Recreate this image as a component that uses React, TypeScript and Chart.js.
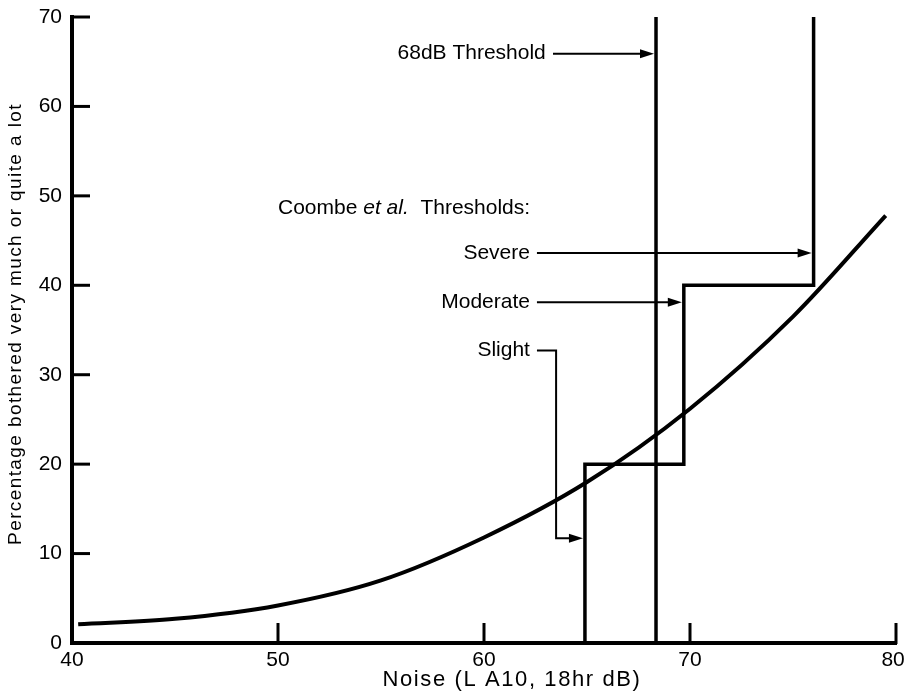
import React, { useEffect, useRef } from 'react';
import { Chart, registerables } from 'chart.js';

Chart.register(...registerables);

// ---- data ----
const curveNoise = [40.3, 45, 50, 55, 60, 65, 70, 75, 79.5];
const curvePercent = [2.1, 2.7, 4.2, 7.0, 11.8, 18.0, 26.2, 36.5, 47.8];

const coombeNoise = [64.9, 64.9, 69.7, 69.7, 76.0, 76.0];
const coombePercent = [0, 20, 20, 40, 40, 70];

const thresholdNoise = [68.35, 68.35];
const thresholdPercent = [0, 70];

const xTickValues = [40, 50, 60, 70, 80];
const yTickValues = [0, 10, 20, 30, 40, 50, 60, 70];

const xTitle = 'Noise (L A10, 18hr dB)';
const yTitle = 'Percentage bothered very much or quite a lot';

// annotation labels (text, anchor in data units)
const labelTexts = ['68dB Threshold', 'Severe', 'Moderate', 'Slight'];
const labelNoise = [63.0, 62.23, 62.23, 62.23];
const labelPercent = [65.9, 43.6, 38.1, 32.7];

// arrow paths in data units (last point is the arrow tip)
const arrowPaths: number[][][] = [
  [[63.35, 65.9], [thresholdNoise[0], 65.9]],
  [[62.57, 43.6], [coombeNoise[4], 43.6]],
  [[62.57, 38.1], [coombeNoise[2], 38.1]],
  [[62.57, 32.7], [63.5, 32.7], [63.5, 11.7], [coombeNoise[0], 11.7]],
];

const coombeHeading = { noise: 50.0, percent: 48.6 };

const FONT = '"Liberation Sans", Arial, sans-serif';

const overlayPlugin = {
  id: 'overlay',
  beforeDraw(chart: any) {
    const ctx = chart.ctx;
    ctx.save();
    ctx.fillStyle = '#fff';
    ctx.fillRect(0, 0, chart.width, chart.height);
    ctx.restore();
  },
  afterDraw(chart: any) {
    const ctx: CanvasRenderingContext2D = chart.ctx;
    const xs = chart.scales.x;
    const ys = chart.scales.y;
    const px = (v: number) => xs.getPixelForValue(v);
    const py = (v: number) => ys.getPixelForValue(v);
    const area = chart.chartArea;

    ctx.save();
    ctx.strokeStyle = '#000';
    ctx.fillStyle = '#000';
    ctx.lineCap = 'butt';

    // inward tick marks
    ctx.lineWidth = 3;
    yTickValues.forEach((v) => {
      if (v === 0) return;
      const y = py(v);
      ctx.beginPath();
      ctx.moveTo(area.left - 1, y);
      ctx.lineTo(area.left + 18, y);
      ctx.stroke();
    });
    xTickValues.forEach((v) => {
      if (v === 40) return;
      const x = px(v);
      ctx.beginPath();
      ctx.moveTo(x, area.bottom + 1);
      ctx.lineTo(x, area.bottom - 20);
      ctx.stroke();
    });

    // arrows
    ctx.lineWidth = 2;
    arrowPaths.forEach((path) => {
      const pts = path.map(([x, y]) => [px(x), py(y)]);
      const n = pts.length;
      const tip = pts[n - 1].slice();
      const prev = pts[n - 2];
      const dx = Math.sign(tip[0] - prev[0]);
      tip[0] -= dx * 2; // stop at the edge of the target line
      ctx.beginPath();
      ctx.moveTo(pts[0][0], pts[0][1]);
      for (let i = 1; i < n - 1; i++) ctx.lineTo(pts[i][0], pts[i][1]);
      ctx.lineTo(tip[0] - dx * 10, tip[1]);
      ctx.stroke();
      ctx.beginPath();
      ctx.moveTo(tip[0], tip[1]);
      ctx.lineTo(tip[0] - dx * 14, tip[1] - 4.5);
      ctx.lineTo(tip[0] - dx * 14, tip[1] + 4.5);
      ctx.closePath();
      ctx.fill();
    });

    // labels
    ctx.font = `21px ${FONT}`;
    ctx.textAlign = 'right';
    ctx.textBaseline = 'middle';
    labelTexts.forEach((t, i) => {
      ctx.fillText(t, px(labelNoise[i]), py(labelPercent[i]));
    });

    // Coombe et al. Thresholds:
    let hx = px(coombeHeading.noise);
    const hy = py(coombeHeading.percent);
    ctx.textAlign = 'left';
    const parts: [string, string][] = [
      ['Coombe ', `21px ${FONT}`],
      ['et al.', `italic 21px ${FONT}`],
      ['  Thresholds:', `21px ${FONT}`],
    ];
    parts.forEach(([t, f]) => {
      ctx.font = f;
      ctx.fillText(t, hx, hy);
      hx += ctx.measureText(t).width;
    });

    // axis titles
    const anyCtx = ctx as any;
    ctx.font = `22px ${FONT}`;
    ctx.textAlign = 'center';
    anyCtx.letterSpacing = '1.6px';
    ctx.fillText(xTitle, (area.left + area.right) / 2 + 28, 680);

    ctx.save();
    ctx.translate(16, (area.top + area.bottom) / 2 - 6);
    ctx.rotate(-Math.PI / 2);
    ctx.font = `19px ${FONT}`;
    anyCtx.letterSpacing = '1.4px';
    ctx.fillText(yTitle, 0, 0);
    ctx.restore();
    anyCtx.letterSpacing = '0px';

    ctx.restore();
  },
};

export default function App() {
  const ref = useRef<HTMLCanvasElement>(null);

  useEffect(() => {
    const canvas = ref.current;
    if (!canvas) return;
    const lineBase = {
      showLine: true,
      borderColor: '#000',
      backgroundColor: '#000',
      pointRadius: 0,
      fill: false,
    };
    const chart = new Chart(canvas, {
      type: 'scatter',
      data: {
        datasets: [
          {
            ...lineBase,
            label: 'Annoyance curve',
            data: curveNoise.map((x, i) => ({ x, y: curvePercent[i] })),
            borderWidth: 4,
            cubicInterpolationMode: 'monotone',
          },
          {
            ...lineBase,
            label: 'Coombe et al. thresholds',
            data: coombeNoise.map((x, i) => ({ x, y: coombePercent[i] })),
            borderWidth: 3.5,
            tension: 0,
          },
          {
            ...lineBase,
            label: '68dB Threshold',
            data: thresholdNoise.map((x, i) => ({ x, y: thresholdPercent[i] })),
            borderWidth: 3.5,
            tension: 0,
          },
        ] as any,
      },
      options: {
        responsive: false,
        animation: false,
        devicePixelRatio: 1,
        layout: { padding: { top: 17, right: 10, left: 0, bottom: 0 } },
        plugins: {
          legend: { display: false },
          tooltip: { enabled: false },
          title: { display: false },
        },
        scales: {
          x: {
            type: 'linear',
            min: 40,
            max: 80,
            grid: { display: false, drawTicks: false },
            border: { display: true, color: '#000', width: 4 },
            ticks: {
              color: '#000',
              font: { family: FONT, size: 21 },
              padding: 5,
              maxRotation: 0,
              callback: (v: any) => (v === 80 ? '80 ' : String(v)),
            },
            afterBuildTicks: (s: any) => {
              s.ticks = xTickValues.map((value) => ({ value }));
            },
            afterFit: (s: any) => {
              s.height = 51;
              s.paddingLeft = 0;
              s.paddingRight = 0;
            },
          },
          y: {
            type: 'linear',
            min: 0,
            max: 70,
            grid: { display: false, drawTicks: false },
            border: { display: true, color: '#000', width: 4 },
            ticks: {
              color: '#000',
              font: { family: FONT, size: 21 },
              padding: 10,
            },
            afterBuildTicks: (s: any) => {
              s.ticks = yTickValues.map((value) => ({ value }));
            },
            afterFit: (s: any) => {
              s.width = 72;
              s.paddingTop = 0;
              s.paddingBottom = 0;
            },
          },
        },
      } as any,
      plugins: [overlayPlugin],
    });
    return () => chart.destroy();
  }, []);

  return (
    <div style={{ position: 'absolute', left: 0, top: 0, width: 906, height: 694, background: '#fff' }}>
      <canvas ref={ref} width={906} height={694} style={{ display: 'block' }} />
    </div>
  );
}
